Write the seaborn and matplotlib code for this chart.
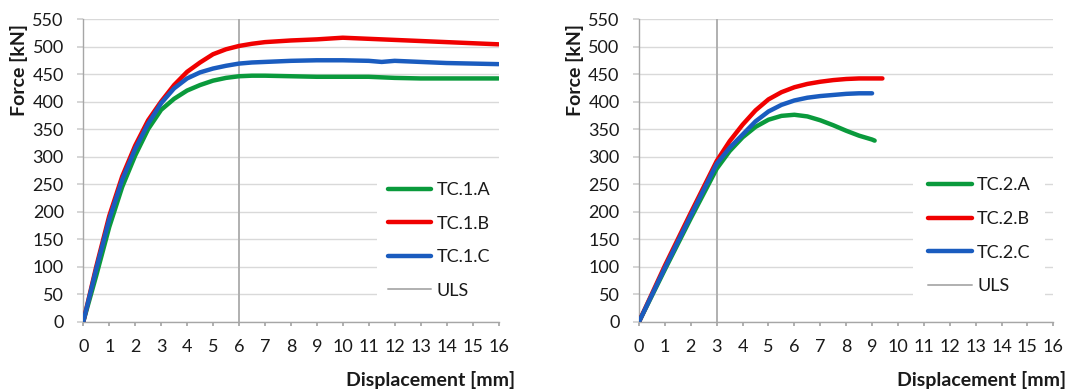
import numpy as np
import pandas as pd
import matplotlib
matplotlib.use("Agg")
import matplotlib.pyplot as plt
import seaborn as sns
from matplotlib.lines import Line2D

# ---- data ----
tc1_x = [0, 0.5, 1, 1.5, 2, 2.5, 3, 3.5, 4, 4.5, 5, 5.5, 6, 6.5, 7, 8, 9, 10, 11, 11.5, 12, 13, 14, 15, 16]
tc1a_y = [0, 84, 172, 245, 302, 350, 385, 405, 420, 430, 438, 443, 446, 447, 447, 446, 445, 445, 445, 444, 443, 442, 442, 442, 442]
tc1b_y = [0, 100, 192, 264, 320, 366, 400, 430, 454, 471, 486, 495, 501, 505, 508, 511, 513, 516, 514, 513, 512, 510, 508, 506, 504]
tc1c_y = [0, 96, 186, 258, 314, 360, 397, 424, 442, 453, 460, 465, 469, 471, 472, 474, 475, 475, 474, 472, 474, 472, 470, 469, 468]

tc2a_x = [0, 1, 2, 3, 3.5, 4, 4.5, 5, 5.5, 6, 6.5, 7, 7.5, 8, 8.5, 9, 9.1]
tc2a_y = [0, 95, 188, 278, 310, 335, 354, 367, 374, 376, 373, 366, 357, 347, 338, 331, 329]
tc2b_x = [0, 1, 2, 3, 3.5, 4, 4.5, 5, 5.5, 6, 6.5, 7, 7.5, 8, 8.5, 9, 9.4]
tc2b_y = [0, 102, 198, 292, 328, 358, 384, 404, 417, 426, 432, 436, 439, 441, 442, 442, 442]
tc2c_x = [0, 1, 2, 3, 3.5, 4, 4.5, 5, 5.5, 6, 6.5, 7, 7.5, 8, 8.5, 9]
tc2c_y = [0, 98, 193, 287, 316, 340, 364, 382, 394, 402, 407, 410, 412, 414, 415, 415]

uls1 = 6
uls2 = 3

labels1 = ["TC.1.A", "TC.1.B", "TC.1.C"]
labels2 = ["TC.2.A", "TC.2.B", "TC.2.C"]
colors = ["#0a9a3c", "#f00000", "#1a5cbf"]
uls_color = "#b0b0b0"

sns.set_theme(style="white")
plt.rcParams["font.family"] = ["Lato", "DejaVu Sans"]

FS = 13
LFS = 14

fig = plt.figure(figsize=(10.76, 3.91), dpi=100)
ax1 = fig.add_axes([0.0774, 0.1772, 0.3859, 0.7742])
ax2 = fig.add_axes([0.5939, 0.1772, 0.3850, 0.7742])

df1 = pd.concat([
    pd.DataFrame({"x": tc1_x, "y": tc1a_y, "s": labels1[0]}),
    pd.DataFrame({"x": tc1_x, "y": tc1b_y, "s": labels1[1]}),
    pd.DataFrame({"x": tc1_x, "y": tc1c_y, "s": labels1[2]}),
])
df2 = pd.concat([
    pd.DataFrame({"x": tc2a_x, "y": tc2a_y, "s": labels2[0]}),
    pd.DataFrame({"x": tc2b_x, "y": tc2b_y, "s": labels2[1]}),
    pd.DataFrame({"x": tc2c_x, "y": tc2c_y, "s": labels2[2]}),
])

def style(ax, df, labels, uls, legend_anchor, xlab_x, bpad):
    ax.axvline(uls, color=uls_color, lw=1.4, zorder=1.5)
    sns.lineplot(data=df, x="x", y="y", hue="s", hue_order=labels,
                 palette=colors, sort=False, lw=3.2, ax=ax, legend=False,
                 zorder=3, solid_capstyle="round")
    ax.set_xlim(0, 16)
    ax.set_ylim(0, 550)
    ax.set_xticks(range(0, 17))
    ax.set_yticks(range(0, 551, 50))
    ax.yaxis.grid(True, color="#d9d9d9", lw=1.0)
    ax.xaxis.grid(False)
    ax.set_axisbelow(True)
    for s in ["top", "right"]:
        ax.spines[s].set_visible(False)
    for s in ["left", "bottom"]:
        ax.spines[s].set_color("#a6a6a6")
        ax.spines[s].set_linewidth(1.0)
    ax.tick_params(axis="x", direction="out", length=3.2, color="#a6a6a6",
                   labelsize=FS, labelcolor="#1a1a1a", pad=9, bottom=True)
    ax.tick_params(axis="y", direction="out", length=4.5, color="#d0d0d0",
                   labelsize=FS, labelcolor="#1a1a1a", pad=9.5, left=True)
    ax.set_xlabel("Displacement [mm]", fontsize=LFS, fontweight="bold", color="#1a1a1a")
    ax.set_ylabel("Force [kN]", fontsize=LFS, fontweight="bold", color="#1a1a1a")
    ax.xaxis.set_label_coords(xlab_x, -0.193)
    ax.xaxis.label.set_ha("right")
    ax.xaxis.label.set_va("center")
    ax.yaxis.set_label_coords(-0.155, 0.832)
    ax.yaxis.label.set_va("center")
    handles = [Line2D([], [], color=c, lw=3.2, solid_capstyle="round") for c in colors]
    handles.append(Line2D([], [], color=uls_color, lw=1.4))
    leg = ax.legend(handles, labels + ["ULS"], loc="center left",
                    bbox_to_anchor=legend_anchor, frameon=True, facecolor="white",
                    edgecolor="none", framealpha=1.0, fontsize=FS,
                    labelspacing=0.97, handlelength=2.4, handletextpad=0.3,
                    borderpad=bpad, borderaxespad=0.0, fancybox=False)
    for t in leg.get_texts():
        t.set_color("#1a1a1a")

style(ax1, df1, labels1, uls1, (0.7066, 0.2686), 1.04, 0.6)
style(ax2, df2, labels2, uls2, (0.6625, 0.284), 1.031, 0.82)

fig.savefig("out.png", dpi=100)
